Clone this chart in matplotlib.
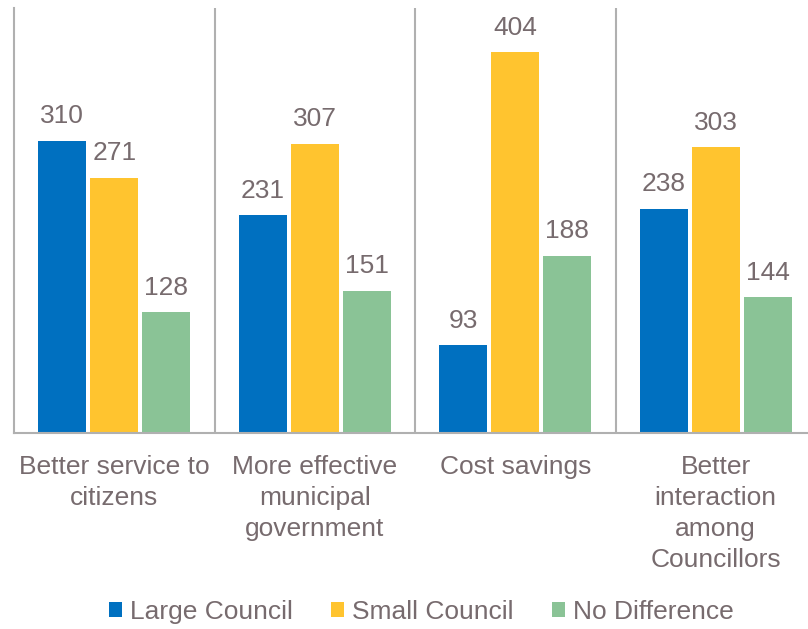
import matplotlib
matplotlib.use("Agg")
import matplotlib.pyplot as plt
import numpy as np

plt.rcParams["font.family"] = ["Liberation Sans", "DejaVu Sans"]

categories = [
    "Better service to\ncitizens",
    "More effective\nmunicipal\ngovernment",
    "Cost savings",
    "Better\ninteraction\namong\nCouncillors",
]
series_names = ["Large Council", "Small Council", "No Difference"]
large_council = [310, 231, 93, 238]
small_council = [271, 307, 404, 303]
no_difference = [128, 151, 188, 144]

colors = ["#0070C0", "#FFC42F", "#8AC396"]
text_color = "#776B6E"
rule_color = "#B0B0B0"
font_size = 19

fig = plt.figure(figsize=(8.08, 6.29), dpi=100)
# axes runs slightly past the right edge, so the last divider is cut off
ax = fig.add_axes([14 / 808, 1 - 433 / 629, 802 / 808, 425 / 629])

x = np.arange(len(categories))
width = 0.24
step = 0.26
for i, (vals, name, c) in enumerate(zip([large_council, small_council, no_difference],
                                         series_names, colors)):
    bars = ax.bar(x + (i - 1) * step, vals, width, color=c, label=name, zorder=2)
    for b, v in zip(bars, vals):
        ax.annotate(str(v), (b.get_x() + b.get_width() / 2, v),
                    xytext=(0, 9), textcoords="offset points",
                    ha="center", va="bottom", fontsize=font_size, color=text_color)

ax.set_xlim(-0.5, len(categories) - 0.5)
ax.set_ylim(0, 451)

# category dividers
for b in x[:-1] + 0.5:
    ax.axvline(b, color=rule_color, lw=1.5, zorder=1)

for side in ["top", "right"]:
    ax.spines[side].set_visible(False)
for side in ["left", "bottom"]:
    ax.spines[side].set_color(rule_color)
    ax.spines[side].set_linewidth(1.5)

ax.set_yticks([])
ax.set_xticks(x)
ax.set_xticklabels(categories, fontsize=font_size, color=text_color,
                   linespacing=1.37, va="top")
ax.tick_params(axis="x", length=0, pad=15.5)

fig.legend(loc="center", bbox_to_anchor=(421 / 808, 1 - 612 / 629), ncol=3,
           frameon=False, fontsize=font_size, labelcolor=text_color,
           handlelength=0.5, handleheight=0.5, handletextpad=0.3,
           columnspacing=1.45)

fig.savefig("out.png", dpi=100)
